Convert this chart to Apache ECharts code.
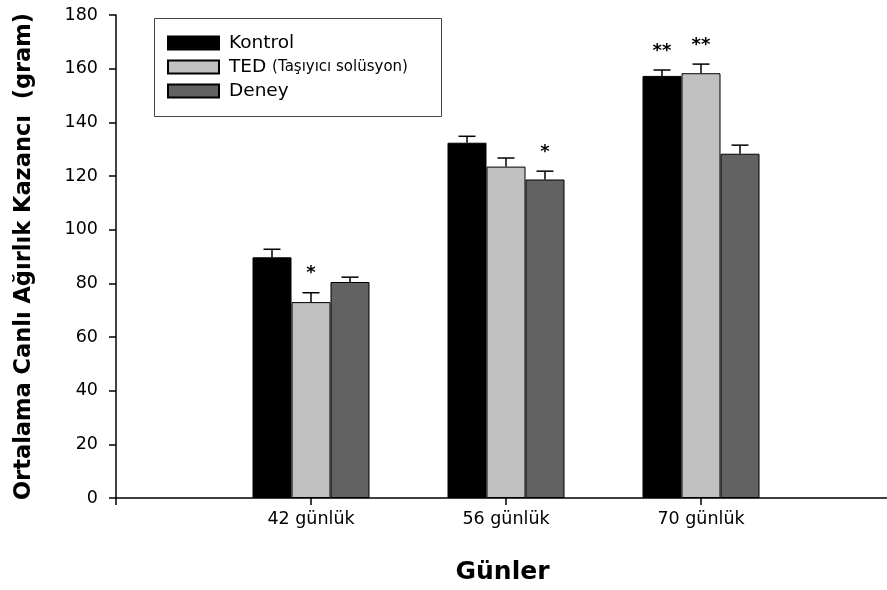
<!DOCTYPE html>
<html>
<head>
<meta charset="utf-8">
<script src="https://cdn.jsdelivr.net/npm/echarts@6/dist/echarts.min.js"></script>
<style>
  html, body { margin: 0; padding: 0; background: #fff; }
  #chart { width: 887px; height: 590px; }
</style>
</head>
<body>
<div id="chart"></div>
<script>
// Age groups on the x axis
const categories = ['42 günlük', '56 günlük', '70 günlük'];

// Group names (legend)
const groupNames = ['Kontrol', 'TED (Taşıyıcı solüsyon)', 'Deney'];

// Mean live weight gain (gram) and standard errors
const kontrol = [89.7, 132.4, 157.3];
const kontrolErr = [3.0, 2.4, 2.2];
const ted = [73.0, 123.5, 158.3];
const tedErr = [3.5, 3.2, 3.4];
const deney = [80.5, 118.7, 128.3];
const deneyErr = [1.8, 3.1, 3.2];

// Significance marks
const kontrolSig = ['', '', '**'];
const tedSig = ['*', '', '**'];
const deneySig = ['', '*', ''];

// Y axis ticks
const yMin = 0, yMax = 180, yStep = 20;

const FONT = 'DejaVu Sans';
const colors = ['#000000', '#c0c0c0', '#626262'];
const BAR_W = 39;
const offsets = [-BAR_W, 0, BAR_W];

// Empty slots at both ends leave room around the three groups
const axisCats = [''].concat(categories, ['']);

const groups = [
  { vals: kontrol, errs: kontrolErr, sig: kontrolSig },
  { vals: ted, errs: tedErr, sig: tedSig },
  { vals: deney, errs: deneyErr, sig: deneySig }
];

const series = [];
groups.forEach((g, s) => {
  series.push({
    name: groupNames[s],
    type: 'bar',
    barWidth: BAR_W,
    barGap: '0%',
    itemStyle: { color: colors[s], borderColor: '#000', borderWidth: 1 },
    emphasis: { disabled: true },
    data: g.vals.map((v, i) => [i + 1, v])
  });
});
groups.forEach((g, s) => {
  series.push({
    name: 'err' + s,
    type: 'custom',
    z: 5,
    silent: true,
    encode: { x: 0, y: 1 },
    data: g.vals.map((v, i) => [i + 1, v, g.errs[i]]),
    renderItem: function (params, api) {
      const x = api.value(0);
      const v = api.value(1);
      const e = api.value(2);
      const mark = g.sig[params.dataIndex];
      const base = api.coord([x, v]);
      const top = api.coord([x, v + e]);
      const cx = base[0] + offsets[s];
      const half = 8.5;
      const children = [
        { type: 'line', shape: { x1: cx, y1: base[1], x2: cx, y2: top[1] },
          style: { stroke: '#000', lineWidth: 1.5 } },
        { type: 'line', shape: { x1: cx - half, y1: top[1], x2: cx + half, y2: top[1] },
          style: { stroke: '#000', lineWidth: 1.5 } }
      ];
      if (mark) {
        children.push({
          type: 'text',
          style: {
            text: mark, x: cx, y: top[1] - 19,
            align: 'center', verticalAlign: 'middle',
            font: 'bold 18px "' + FONT + '"', fill: '#000'
          }
        });
      }
      return { type: 'group', children: children };
    }
  });
});

const chart = echarts.init(document.getElementById('chart'), null, { renderer: 'canvas' });
chart.setOption({
  animation: false,
  textStyle: { fontFamily: FONT },
  grid: { left: 116, right: -9, top: 15, bottom: 92, containLabel: false, outerBoundsMode: 'none' },
  legend: {
    data: groupNames,
    orient: 'vertical',
    left: 167,
    top: 33,
    padding: 0,
    icon: 'rect',
    itemWidth: 51,
    itemHeight: 13,
    itemGap: 4,
    selectedMode: false,
    textStyle: {
      fontFamily: FONT, fontSize: 18.5, color: '#000', lineHeight: 20,
      padding: [0, 0, 0, 5],
      rich: { s: { fontFamily: FONT, fontSize: 15, color: '#000', lineHeight: 20 } }
    },
    formatter: function (name) {
      const k = name.indexOf(' (');
      return k < 0 ? name : name.slice(0, k) + ' {s|' + name.slice(k + 1) + '}';
    }
  },
  graphic: [{
    type: 'rect',
    left: 152, top: 16,
    shape: { width: 287, height: 98 },
    style: { fill: 'none', stroke: '#444', lineWidth: 1 },
    silent: true
  }],
  xAxis: {
    type: 'category',
    data: axisCats,
    boundaryGap: false,
    name: 'Günler',
    nameLocation: 'middle',
    nameGap: 62,
    nameTextStyle: { fontFamily: FONT, fontWeight: 'bold', fontSize: 25, color: '#000', padding: [0, 7, 0, 0] },
    axisLine: { show: true, lineStyle: { color: '#000', width: 1.5 } },
    axisTick: { show: true, inside: false, length: 7, lineStyle: { color: '#000', width: 1.5 } },
    axisLabel: { color: '#000', fontSize: 17.5, margin: 12, interval: 0 },
    splitLine: { show: false }
  },
  yAxis: {
    type: 'value',
    min: yMin, max: yMax, interval: yStep,
    name: 'Ortalama Canlı Ağırlık Kazancı  (gram)',
    nameLocation: 'middle',
    nameRotate: 90,
    nameGap: 80,
    nameTextStyle: { fontFamily: FONT, fontWeight: 'bold', fontSize: 22.5, color: '#000' },
    axisLine: { show: true, onZero: false, lineStyle: { color: '#000', width: 1.5 } },
    axisTick: { show: true, inside: false, length: 7, lineStyle: { color: '#000', width: 1.5 } },
    axisLabel: { color: '#000', fontSize: 17.5, margin: 18 },
    splitLine: { show: false }
  },
  series: series
});
</script>
</body>
</html>
